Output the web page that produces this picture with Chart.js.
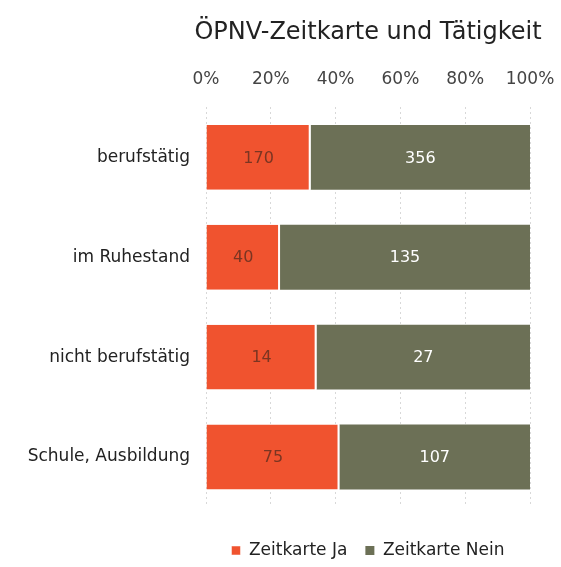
<!DOCTYPE html>
<html>
<head>
<meta charset="utf-8">
<script src="https://cdn.jsdelivr.net/npm/chart.js@4.4.0/dist/chart.umd.min.js"></script>
<style>
  html, body { margin: 0; padding: 0; background: #fff; }
  #wrap { width: 561px; height: 567px; }
</style>
</head>
<body>
<div id="wrap"><canvas id="grafico" width="561" height="567"></canvas></div>
<script>
// Datos del gráfico
const kategorien = ['berufstätig', 'im Ruhestand', 'nicht berufstätig', 'Schule, Ausbildung'];
const zeitkarteJa = [170, 40, 14, 75];
const zeitkarteNein = [356, 135, 27, 107];
const xTicks = [0, 20, 40, 60, 80, 100];
const titel = 'ÖPNV-Zeitkarte und Tätigkeit';

const schrift = '"DejaVu Sans", sans-serif';

// Anteile in Prozent für die 100%-Darstellung
const summe = zeitkarteJa.map((v, i) => v + zeitkarteNein[i]);
const anteilJa = zeitkarteJa.map((v, i) => v / summe[i] * 100);
const anteilNein = zeitkarteNein.map((v, i) => v / summe[i] * 100);

// Plugin: Werte in die Balken schreiben
const wertePlugin = {
    id: 'werte',
    afterDatasetsDraw(chart) {
        const ctx = chart.ctx;
        ctx.save();
        ctx.font = '16px ' + schrift;
        ctx.textAlign = 'center';
        ctx.textBaseline = 'middle';
        chart.data.datasets.forEach((ds, di) => {
            const meta = chart.getDatasetMeta(di);
            meta.data.forEach((bar, i) => {
                const mitte = (bar.x + bar.base) / 2;
                ctx.fillStyle = di === 0 ? '#7a3522' : '#ffffff';
                ctx.fillText(String(ds.werte[i]), mitte, bar.y + 1);
            });
        });
        ctx.restore();
    }
};

// Plugin: Titel über der Zeichenfläche zentriert (darf breiter sein als die Fläche)
const titelPlugin = {
    id: 'titel',
    afterDraw(chart) {
        const ctx = chart.ctx;
        const area = chart.chartArea;
        ctx.save();
        ctx.font = '24px ' + schrift;
        ctx.fillStyle = '#222';
        ctx.textAlign = 'center';
        ctx.textBaseline = 'middle';
        ctx.fillText(titel, (area.left + area.right) / 2, 33);
        ctx.restore();
    }
};

const ctx = document.getElementById('grafico').getContext('2d');
new Chart(ctx, {
    type: 'bar',
    data: {
        labels: kategorien,
        datasets: [{
            label: 'Zeitkarte Ja',
            data: anteilJa,
            werte: zeitkarteJa,
            backgroundColor: '#f0532f',
            borderColor: '#ffffff',
            borderWidth: { left: 0, top: 0, bottom: 0, right: 2 },
            borderSkipped: false,
            barPercentage: 0.65,
            categoryPercentage: 1
        }, {
            label: 'Zeitkarte Nein',
            data: anteilNein,
            werte: zeitkarteNein,
            backgroundColor: '#6c7056',
            borderWidth: 0,
            barPercentage: 0.65,
            categoryPercentage: 1
        }]
    },
    options: {
        indexAxis: 'y',
        responsive: false,
        animation: false,
        layout: { padding: { left: 6, right: 31, top: 51, bottom: -2 } },
        scales: {
            x: {
                position: 'top',
                stacked: true,
                min: 0,
                max: 100,
                afterBuildTicks(axis) {
                    axis.ticks = xTicks.map(v => ({ value: v }));
                },
                afterFit(axis) {
                    axis.paddingRight = 0;
                },
                ticks: {
                    callback: v => v + '%',
                    color: '#444',
                    font: { size: 17, family: schrift },
                    padding: 18
                },
                grid: {
                    color: '#d8d8d8',
                    drawTicks: false
                },
                border: { display: false, dash: [2, 3] }
            },
            y: {
                stacked: true,
                afterFit(axis) {
                    axis.width = 200;
                },
                ticks: {
                    color: '#222',
                    font: { size: 17, family: schrift },
                    padding: 8
                },
                grid: { display: false },
                border: { display: false }
            }
        },
        plugins: {
            title: { display: false },
            legend: {
                position: 'bottom',
                fullSize: false,
                title: {
                    display: true,
                    text: '',
                    font: { size: 10 },
                    padding: { top: 5, bottom: 0 }
                },
                labels: {
                    boxWidth: 9,
                    boxHeight: 9,
                    color: '#222',
                    font: { size: 17, family: schrift },
                    padding: 18
                }
            },
            tooltip: { enabled: false }
        }
    },
    plugins: [wertePlugin, titelPlugin]
});
</script>
</body>
</html>
